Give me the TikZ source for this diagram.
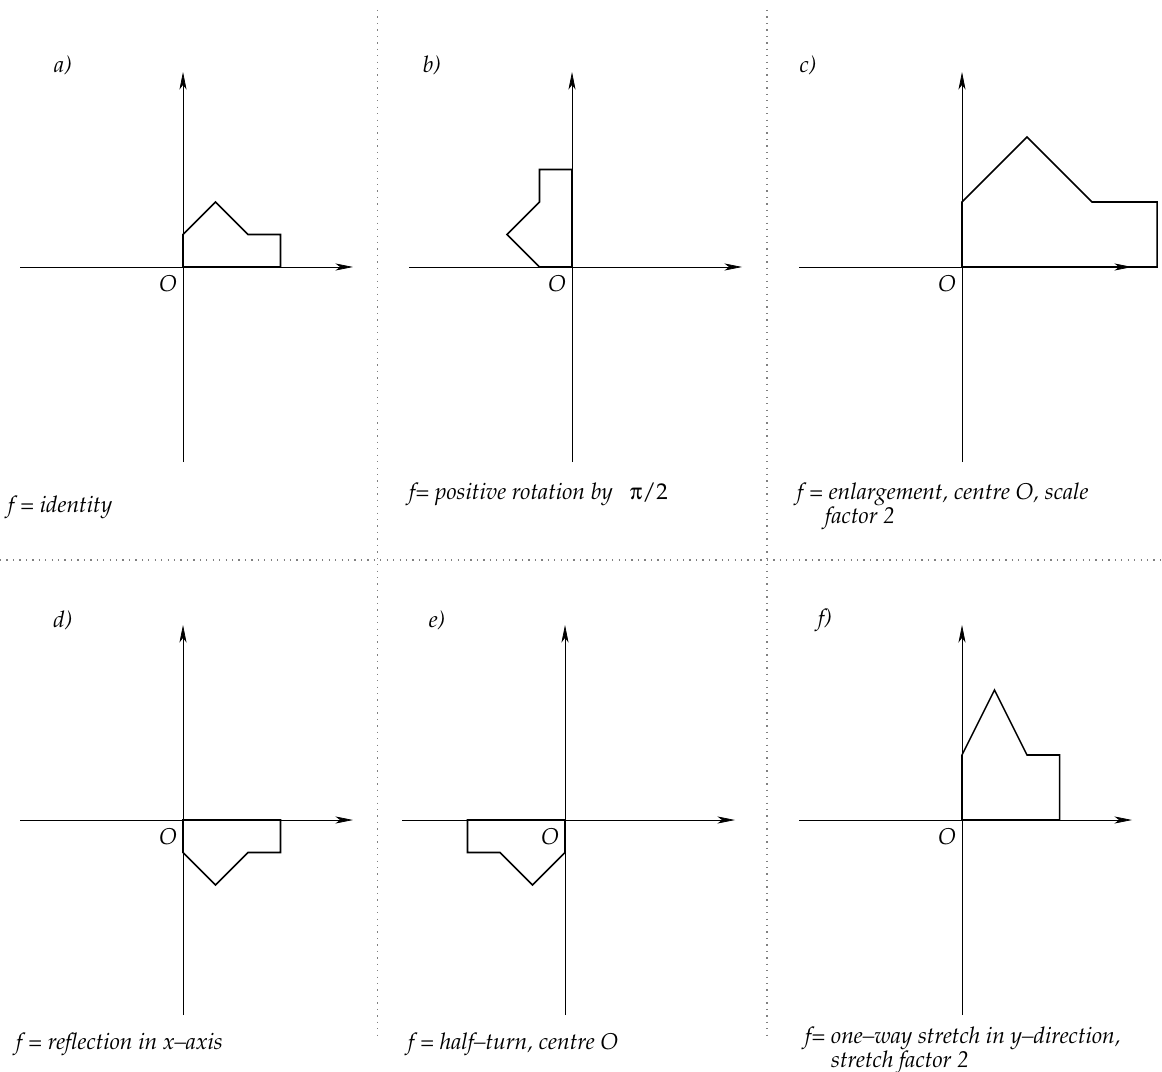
\documentclass[tikz,border=0pt]{standalone}
\usepackage[T1]{fontenc}
\usepackage{mathpazo}
\usepackage[Symbol]{upgreek}
\usetikzlibrary{arrows.meta}

\tikzset{
  axis/.style={line width=0.6pt, -{Stealth[length=15pt,width=6pt,inset=4pt]}},
  house/.style={line width=1.3pt},
  sep/.style={gray, line width=1.1pt, dash pattern=on 1.1pt off 4.4pt},
  lbl/.style={font=\fontsize{19.5}{23}\selectfont\itshape, inner sep=0pt},
}

\begin{document}
\begin{tikzpicture}[x=0.03cm, y=-0.03cm]
  \def\sq{0.975}
  \useasboundingbox (0,0) rectangle (1162,1072);

  % separators
  \draw[sep] (377.7,10) -- (377.7,1037);
  \draw[sep] (767,10) -- (767,1037);
  \draw[sep] (0,560) -- (1162,560);

  % axes, origins and images of the house
  \foreach \nm/\ox/\oy/\xv/\yv in {a/183/267/{\sq cm,0cm}/{0cm,\sq cm},
                                   b/572/267/{0cm,\sq cm}/{-\sq cm,0cm},
                                   c/962/267/{2*\sq cm,0cm}/{0cm,2*\sq cm},
                                   d/183/820/{\sq cm,0cm}/{0cm,-\sq cm},
                                   e/565/820/{-\sq cm,0cm}/{0cm,-\sq cm},
                                   f/962/820/{\sq cm,0cm}/{0cm,2*\sq cm}} {
      \coordinate (O\nm) at (\ox,\oy);
      \coordinate (W\nm) at (\ox-163,\oy);
      \coordinate (E\nm) at (\ox+170,\oy);
      \coordinate (S\nm) at (\ox,\oy+195);
      \coordinate (N\nm) at (\ox,\oy-195);
      \draw[axis] (W\nm) -- (E\nm);
      \draw[axis] (S\nm) -- (N\nm);
      \node[lbl] (o\nm) at (\ox-15,\oy+17) {O};
      \begin{scope}[shift={(\ox,\oy)}, x={(\xv)}, y={(\yv)}]
        \draw[house] (0,0) -- (0,1) -- (1,2) -- (2,1) -- (3,1) -- (3,0) -- cycle;
      \end{scope}
  }

  %labels
  \node[lbl] (la) at (63,66) {a)};
  \node[lbl] (lb) at (432,66) {b)};
  \node[lbl] (lc) at (808,66) {c)};
  \node[lbl] (ld) at (63,620) {d)};
  \node[lbl] (le) at (437,620) {e)};
  \node[lbl] (lf) at (825,620) {f)};

  \node[lbl, anchor=base west] (capa) at (8,512) {f = identity};
  \node[lbl, anchor=base west] (capb) at (409,499) {f= positive rotation by \ \ \textup{$\uppi$/2}};
  \node[lbl, anchor=base west] (capc) at (797,499) {f = enlargement, centre O, scale};
  \node[lbl, anchor=base west] (capc2) at (825,523) {factor 2};
  \node[lbl, anchor=base west] (capd) at (16,1049) {f = reflection in x--axis};
  \node[lbl, anchor=base west] (cape) at (408,1049) {f = half--turn, centre O};
  \node[lbl, anchor=base west] (capf) at (805,1043) {f= one--way stretch in y--direction,};
  \node[lbl, anchor=base west] (capf2) at (831,1067) {stretch factor 2};
\end{tikzpicture}
\end{document}
